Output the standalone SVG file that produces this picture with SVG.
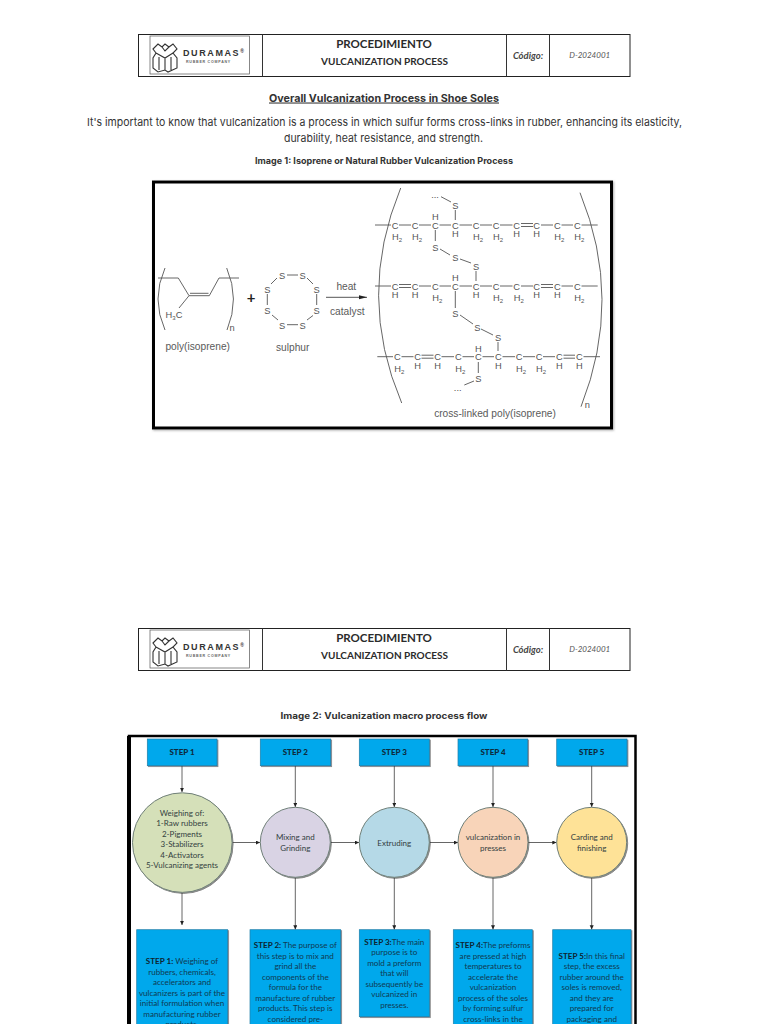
<svg xmlns="http://www.w3.org/2000/svg" xmlns:xlink="http://www.w3.org/1999/xlink" width="768" height="1024" viewBox="0 0 768 1024">
<style>
text{font-family:"Lato","Open Sans","Liberation Sans",sans-serif;text-anchor:middle;fill:#222}
.doc{font-family:"Inter","Noto Sans","Liberation Sans",sans-serif;fill:#333}
.pt{font-size:11.5px;font-weight:700;fill:#2b2b2b}
.ps{font-size:10px;font-weight:700;fill:#2b2b2b}
.cd{font-size:9.5px;font-style:italic;font-weight:700;fill:#444}
.id{font-size:8px;font-style:italic;fill:#555}
.brand{font-family:"Liberation Sans",sans-serif;font-size:9px;font-weight:700;letter-spacing:1.6px;text-anchor:start;fill:#333}
.reg{font-size:5px}
.sub{font-family:"Liberation Sans",sans-serif;font-size:3.6px;font-weight:700;letter-spacing:.75px;text-anchor:start;fill:#666}
.a{font-family:"Liberation Sans",sans-serif;font-size:9.3px;fill:#555}
.lb{font-family:"Liberation Sans",sans-serif;font-size:10.2px;fill:#5a5a5a}
.s{font-size:6px}
.b{stroke:#555;stroke-width:.9;fill:none}
.step{fill:#00a8ec;stroke:#1d7ea8;stroke-width:.7;filter:url(#sh)}
.st{font-size:8px;font-weight:900;fill:#0e2c3e}
.ct{font-size:8px;fill:#33403f}
.bt{font-size:8.1px;fill:#103a52}
.bt tspan{font-weight:700;fill:#0e2430}
.cn{stroke:#555;stroke-width:.9;fill:none;marker-end:url(#ah)}
.ci{stroke:#6f7f78;stroke-width:1;filter:url(#sh)}
</style>
<defs>
<marker id="ah" markerWidth="5" markerHeight="5" refX="4.2" refY="2" orient="auto" markerUnits="userSpaceOnUse"><path d="M0,0L4.2,2L0,4Z" fill="#222"/></marker>
<filter id="sh" x="-10%" y="-10%" width="125%" height="125%"><feDropShadow dx="1" dy="1" stdDeviation=".7" flood-color="#333" flood-opacity=".6"/></filter>
<filter id="fs" x="-3%" y="-3%" width="106%" height="106%"><feDropShadow dx="1" dy="1" stdDeviation="1" flood-color="#777" flood-opacity=".6"/></filter>
<g id="hdrbox">
<rect x="138.500" y=".5" width="491.500" height="42" fill="#fff" stroke="#222" stroke-width="1"/>
<path d="M262.500 .5V42.500M506.500 .5V42.500M549.500 .5V42.500" stroke="#333" stroke-width="1" fill="none"/>
<rect x="150" y="2" width="99.500" height="38" fill="#fff" stroke="#555" stroke-width=".7"/>
<path d="M153 15L158 10L162 13L165 10L169 13L173 10L177 15L173 19L177 24V34L168 38L165 36L158 38L153 34V24L156 19ZM156 19L165 24L173 19M165 24V36M159 23V36M171 23V36M162 13L165 17L169 13" fill="none" stroke="#333" stroke-width="1.100"/>
</g>
</defs>
<rect width="768" height="1024" fill="#fff"/>

<g id="header-1">
<use xlink:href="#hdrbox" href="#hdrbox" y="34"/>
<text class="brand" x="183" y="56">DURAMAS<tspan class="reg" dy="-3">®</tspan></text>
<text class="sub" x="186" y="62.500">RUBBER COMPANY</text>
<text class="pt" x="384" y="47.500">PROCEDIMIENTO</text>
<text class="ps" x="384.500" y="64.500">VULCANIZATION PROCESS</text>
<text class="cd" x="528" y="59">Código:</text>
<text class="id" x="589.700" y="58">D-2024001</text>
</g>

<g id="intro">
<text class="doc" x="384" y="101.500" font-size="10.500" font-weight="700" text-decoration="underline" textLength="230" lengthAdjust="spacingAndGlyphs">Overall Vulcanization Process in Shoe Soles</text>
<text class="doc" x="384.500" y="125.500" font-size="11" textLength="595" lengthAdjust="spacingAndGlyphs">It's important to know that vulcanization is a process in which sulfur forms cross-links in rubber, enhancing its elasticity,</text>
<text class="doc" x="383.500" y="142" font-size="11" textLength="199" lengthAdjust="spacingAndGlyphs">durability, heat resistance, and strength.</text>
<text class="doc" x="384" y="164" font-size="9" font-weight="700" textLength="258" lengthAdjust="spacingAndGlyphs">Image 1: Isoprene or Natural Rubber Vulcanization Process</text>
</g>

<g id="image-1">
<rect x="153.500" y="182" width="458" height="246" fill="#fff" stroke="#000" stroke-width="3" filter="url(#fs)"/>
<g id="isoprene">
<path class="b" d="M158 278H178.300L189 295.700H209.300L219 278H239M190 293.300H208.500M189 295.700L179 308"/>
<path class="b" d="M165 268Q151 299 165 330M226.700 268Q240 299 227 330"/>
<text class="a" x="174" y="318">H<tspan class="s" dy="2">3</tspan><tspan dy="-2">C</tspan></text>
<text class="a" x="232" y="331" font-size="7">n</text>
<text class="lb" x="197.700" y="350">poly(isoprene)</text>
</g>
<text x="251" y="303" font-size="15" font-weight="700" fill="#333" font-family="Liberation Sans">+</text>
<g id="sulphur">
<text class="a" x="282" y="279">S</text><text class="a" x="302.700" y="279">S</text><text class="a" x="316.700" y="293">S</text><text class="a" x="316.700" y="314">S</text><text class="a" x="302.700" y="328.500">S</text><text class="a" x="282" y="328.500">S</text><text class="a" x="267.300" y="314">S</text><text class="a" x="267.300" y="293">S</text>
<path class="b" d="M287 275H298M307 278L313 284M316.700 294V305M313 315.500L307 320M298 324.700H287M278 320L272 315M267.300 305V294M271 284L277 278"/>
<text class="lb" x="292.700" y="351">sulphur</text>
</g>
<g id="reaction-arrow">
<path d="M326 297.300H367" stroke="#555" stroke-width="1" fill="none"/><path d="M359 295.300L367 297.300L359 299.300Z" fill="#222"/>
<text class="lb" x="346.300" y="289.500">heat</text>
<text class="lb" x="347.300" y="314.500">catalyst</text>
</g>
<g id="crosslinked">
<path class="b" d="M400.700 188Q356 296 401.700 403M580 192.700Q623.500 299 581 406.700"/>
<path class="b" d="M375 225H391M399 225H411M419 225H431M439.500 225H451M459.500 225H472M480 225H492M500 225H512.500M521 223.500H533M521 226.500H533M541 225H553M561.500 225H573M581.500 225H597.700"/>
<text class="a" x="395" y="228.500">C</text><text class="a" x="415" y="228.500">C</text><text class="a" x="435.300" y="228.500">C</text><text class="a" x="455.300" y="228.500">C</text><text class="a" x="476" y="228.500">C</text><text class="a" x="496" y="228.500">C</text><text class="a" x="516.700" y="228.500">C</text><text class="a" x="536.700" y="228.500">C</text><text class="a" x="557.300" y="228.500">C</text><text class="a" x="577.300" y="228.500">C</text>
<text class="a" x="397" y="240">H<tspan class="s" dy="2">2</tspan></text><text class="a" x="417" y="240">H<tspan class="s" dy="2">2</tspan></text><text class="a" x="478" y="240">H<tspan class="s" dy="2">2</tspan></text><text class="a" x="498" y="240">H<tspan class="s" dy="2">2</tspan></text><text class="a" x="559.300" y="240">H<tspan class="s" dy="2">2</tspan></text><text class="a" x="579.300" y="240">H<tspan class="s" dy="2">2</tspan></text>
<text class="a" x="435.300" y="219.500">H</text><text class="a" x="455.300" y="236.500">H</text><text class="a" x="516.700" y="236.500">H</text><text class="a" x="536.700" y="236.500">H</text>
<text class="a" x="455.300" y="209">S</text><text class="a" x="435.300" y="250.500">S</text><text class="a" x="455.300" y="261">S</text><text class="a" x="476" y="270">S</text>
<text class="a" x="435" y="198" font-size="6">...</text>
<path class="b" d="M455.300 210V220M441 196.700L451 202M435.300 230V241M440 249L450 255M460 259L471 263M476 271V281"/>
<path class="b" d="M375 286H391M399 284.500H411M399 287.500H411M419 286H431M439.500 286H451M459.500 286H472M480 286H492M500 286H512.500M521 286H533M541 284.500H553M541 287.500H553M561.500 286H573M581.500 286H597.700"/>
<text class="a" x="395" y="289.500">C</text><text class="a" x="415" y="289.500">C</text><text class="a" x="435.300" y="289.500">C</text><text class="a" x="455.300" y="289.500">C</text><text class="a" x="476" y="289.500">C</text><text class="a" x="496" y="289.500">C</text><text class="a" x="516.700" y="289.500">C</text><text class="a" x="536.700" y="289.500">C</text><text class="a" x="557.300" y="289.500">C</text><text class="a" x="577.300" y="289.500">C</text>
<text class="a" x="395" y="297.500">H</text><text class="a" x="415" y="297.500">H</text><text class="a" x="437.300" y="301">H<tspan class="s" dy="2">2</tspan></text><text class="a" x="455.300" y="280.500">H</text><text class="a" x="476" y="297.500">H</text><text class="a" x="498" y="301">H<tspan class="s" dy="2">2</tspan></text><text class="a" x="518.700" y="301">H<tspan class="s" dy="2">2</tspan></text><text class="a" x="536.700" y="297.500">H</text><text class="a" x="557.300" y="297.500">H</text><text class="a" x="579.300" y="301">H<tspan class="s" dy="2">2</tspan></text>
<path class="b" d="M455.300 291V308M460 315L473 324M481 329L493 335M498 342V351"/>
<text class="a" x="455.300" y="316.500">S</text><text class="a" x="477.300" y="330.500">S</text><text class="a" x="498" y="341">S</text>
<path class="b" d="M377.300 356.700H393M401.500 356.700H413.500M421.500 355.200H433.500M421.500 358.200H433.500M441.500 356.700H454M462.500 356.700H474M482.500 356.700H494M502.500 356.700H515M523 356.700H535M543 356.700H555M563.500 355.200H575M563.500 358.200H575M583.500 356.700H600"/>
<text class="a" x="397.300" y="360.200">C</text><text class="a" x="417.700" y="360.200">C</text><text class="a" x="437.700" y="360.200">C</text><text class="a" x="458.300" y="360.200">C</text><text class="a" x="478.300" y="360.200">C</text><text class="a" x="498.300" y="360.200">C</text><text class="a" x="519" y="360.200">C</text><text class="a" x="539" y="360.200">C</text><text class="a" x="559.300" y="360.200">C</text><text class="a" x="579.300" y="360.200">C</text>
<text class="a" x="399.300" y="372">H<tspan class="s" dy="2">2</tspan></text><text class="a" x="417.700" y="368.500">H</text><text class="a" x="437.700" y="368.500">H</text><text class="a" x="460.300" y="372">H<tspan class="s" dy="2">2</tspan></text><text class="a" x="478.300" y="352">H</text><text class="a" x="498.300" y="368.500">H</text><text class="a" x="521" y="372">H<tspan class="s" dy="2">2</tspan></text><text class="a" x="541" y="372">H<tspan class="s" dy="2">2</tspan></text><text class="a" x="559.300" y="368.500">H</text><text class="a" x="579.300" y="368.500">H</text>
<path class="b" d="M478.300 362V373M474 381L464.300 385"/>
<text class="a" x="478.300" y="382">S</text>
<text class="a" x="457.700" y="391" font-size="6">...</text>
<text class="a" x="587.300" y="407.500" font-size="9">n</text>
<text class="lb" x="495" y="417">cross-linked poly(isoprene)</text>
</g>
</g>

<g id="header-2">
<use xlink:href="#hdrbox" href="#hdrbox" y="628"/>
<text class="brand" x="183" y="650">DURAMAS<tspan class="reg" dy="-3">®</tspan></text>
<text class="sub" x="186" y="656.500">RUBBER COMPANY</text>
<text class="pt" x="384" y="641.500">PROCEDIMIENTO</text>
<text class="ps" x="384.500" y="658.500">VULCANIZATION PROCESS</text>
<text class="cd" x="528" y="653">Código:</text>
<text class="id" x="589.700" y="652">D-2024001</text>
</g>
<text class="doc" x="384" y="718.500" font-size="9" font-weight="700" textLength="207" lengthAdjust="spacingAndGlyphs">Image 2: Vulcanization macro process flow</text>

<g id="flow-frame">
<path d="M129 1024V736H635.500V1024" fill="none" stroke="#000" stroke-width="2.500"/>
<path d="M129 1024V736" fill="none" stroke="#000" stroke-width="4"/>
</g>

<g id="connectors">
<path class="cn" d="M182 765.700V792"/><path class="cn" d="M295.300 765.700V807"/><path class="cn" d="M394.300 765.700V807"/><path class="cn" d="M493 765.700V807"/><path class="cn" d="M591.700 765.700V807"/>
<path class="cn" d="M232.300 842.500H260"/><path class="cn" d="M330.500 842.500H359"/><path class="cn" d="M429.500 842.500H458"/><path class="cn" d="M528 842.500H556.500"/>
<path class="cn" d="M182 892.500V925"/><path class="cn" d="M295.300 877.500V929.500"/><path class="cn" d="M394.300 877.500V929.500"/><path class="cn" d="M493 877.500V929.500"/><path class="cn" d="M591.700 877.500V929.500"/>
</g>

<g id="step-1"><rect class="step" x="147.300" y="739" width="69.700" height="26.700"/><text class="st" x="182" y="755">STEP 1</text></g>
<g id="step-2"><rect class="step" x="260.300" y="739" width="70.400" height="26.700"/><text class="st" x="295.300" y="755">STEP 2</text></g>
<g id="step-3"><rect class="step" x="359.300" y="739" width="70" height="26.700"/><text class="st" x="394.300" y="755">STEP 3</text></g>
<g id="step-4"><rect class="step" x="458" y="739" width="69.700" height="26.700"/><text class="st" x="493" y="755">STEP 4</text></g>
<g id="step-5"><rect class="step" x="556.700" y="739" width="70.300" height="26.700"/><text class="st" x="591.700" y="755">STEP 5</text></g>

<g id="circle-1"><circle class="ci" cx="182.300" cy="842.600" r="49.800" fill="#d5e0b9"/>
<text class="ct" x="182" y="815.500">Weighing of:</text><text class="ct" x="182" y="826">1-Raw rubbers</text><text class="ct" x="182" y="836.500">2-Pigments</text><text class="ct" x="182" y="847">3-Stabilizers</text><text class="ct" x="182" y="857.500">4-Activators</text><text class="ct" x="182" y="868">5-Vulcanizing agents</text></g>
<g id="circle-2"><circle class="ci" cx="295.300" cy="842.300" r="35" fill="#d9d3e4"/>
<text class="ct" x="295.300" y="840">Mixing and</text><text class="ct" x="295.300" y="850.500">Grinding</text></g>
<g id="circle-3"><circle class="ci" cx="394.300" cy="842.300" r="35" fill="#b5d9e7"/>
<text class="ct" x="394.300" y="845.500">Extruding</text></g>
<g id="circle-4"><circle class="ci" cx="493" cy="842.300" r="35" fill="#f8d4b9"/>
<text class="ct" x="493" y="840">vulcanization in</text><text class="ct" x="493" y="850.500">presses</text></g>
<g id="circle-5"><circle class="ci" cx="591.700" cy="842.300" r="35" fill="#fee297"/>
<text class="ct" x="591.700" y="840">Carding and</text><text class="ct" x="591.700" y="850.500">finishing</text></g>

<g id="detail-1"><rect class="step" x="136.700" y="929.700" width="91" height="110"/>
<text class="bt" x="182" y="964"><tspan>STEP 1:</tspan> Weighing of</text><text class="bt" x="182" y="974.500">rubbers, chemicals,</text><text class="bt" x="182" y="985">accelerators and</text><text class="bt" x="182" y="995.500">vulcanizers is part of the</text><text class="bt" x="182" y="1006">initial formulation when</text><text class="bt" x="182" y="1016.500">manufacturing rubber</text><text class="bt" x="182" y="1027">products.</text></g>
<g id="detail-2"><rect class="step" x="250" y="929.700" width="90.700" height="110"/>
<text class="bt" x="295.300" y="948"><tspan>STEP 2:</tspan> The purpose of</text><text class="bt" x="295.300" y="958.500">this step is to mix and</text><text class="bt" x="295.300" y="969">grind all the</text><text class="bt" x="295.300" y="979.500">components of the</text><text class="bt" x="295.300" y="990">formula for the</text><text class="bt" x="295.300" y="1000.500">manufacture of rubber</text><text class="bt" x="295.300" y="1011">products. This step is</text><text class="bt" x="295.300" y="1021.500">considered pre-</text></g>
<g id="detail-3"><rect class="step" x="359.300" y="929.700" width="70" height="87"/>
<text class="bt" x="394.300" y="944.500"><tspan>STEP 3:</tspan>The main</text><text class="bt" x="394.300" y="955">purpose is to</text><text class="bt" x="394.300" y="965.500">mold a preform</text><text class="bt" x="394.300" y="976">that will</text><text class="bt" x="394.300" y="986.500">subsequently be</text><text class="bt" x="394.300" y="997">vulcanized in</text><text class="bt" x="394.300" y="1007.500">presses.</text></g>
<g id="detail-4"><rect class="step" x="453.300" y="929.700" width="79" height="110"/>
<text class="bt" x="493" y="948"><tspan>STEP 4:</tspan>The preforms</text><text class="bt" x="493" y="958.500">are pressed at high</text><text class="bt" x="493" y="969">temperatures to</text><text class="bt" x="493" y="979.500">accelerate the</text><text class="bt" x="493" y="990">vulcanization</text><text class="bt" x="493" y="1000.500">process of the soles</text><text class="bt" x="493" y="1011">by forming sulfur</text><text class="bt" x="493" y="1021.500">cross-links in the</text></g>
<g id="detail-5"><rect class="step" x="552.700" y="929.700" width="78.300" height="110"/>
<text class="bt" x="591.700" y="958.500"><tspan>STEP 5:</tspan>In this final</text><text class="bt" x="591.700" y="969">step, the excess</text><text class="bt" x="591.700" y="979.500">rubber around the</text><text class="bt" x="591.700" y="990">soles is removed,</text><text class="bt" x="591.700" y="1000.500">and they are</text><text class="bt" x="591.700" y="1011">prepared for</text><text class="bt" x="591.700" y="1021.500">packaging and</text></g>
</svg>
